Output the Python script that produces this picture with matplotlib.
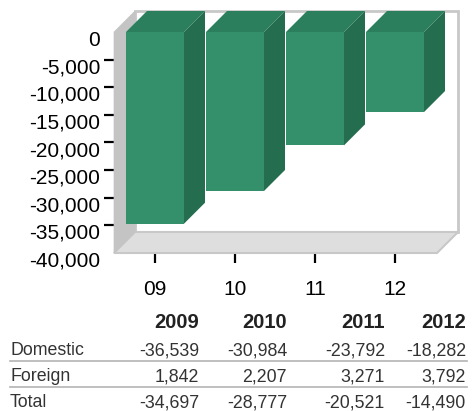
import matplotlib.pyplot as plt
from matplotlib.patches import Polygon
from matplotlib.lines import Line2D
from matplotlib.transforms import ScaledTranslation

plt.rcParams["font.family"] = ["Liberation Sans", "DejaVu Sans"]

categories = ["09", "10", "11", "12"]
years = ["2009", "2010", "2011", "2012"]
domestic = [-36539, -30984, -23792, -18282]
foreign = [1842, 2207, 3271, 3792]
total = [-34697, -28777, -20521, -14490]
yticks = list(range(-40000, 1, 5000))

W, H = 477, 411
front = "#33906a"
top_c = "#2b7f5d"
side_c = "#246d4f"
wall_edge = "#c8c8c8"

fig = plt.figure(figsize=(W / 100, H / 100), dpi=100)
ax = fig.add_axes([114 / W, 1 - 253 / H, (437 - 114) / W, (253 - 32) / H])
ax.patch.set_visible(False)
for s in ax.spines.values():
    s.set_visible(False)

x0, x1 = -0.5125, 3.525
ymin, ymax = -40000, 0
ax.set_xlim(x0, x1)
ax.set_ylim(ymin, ymax)

# depth of the fake 3d box, in data units (about 21px each way)
dx = 21 / 80
dy = 21 / 221 * 40000

# back wall, floor, left wall
ax.add_patch(Polygon([(x0 + dx, ymin + dy), (x1 + dx, ymin + dy), (x1 + dx, ymax + dy), (x0 + dx, ymax + dy)],
                     closed=True, facecolor="white", edgecolor=wall_edge, lw=2, clip_on=False, zorder=1))
ax.add_patch(Polygon([(x0, ymin), (x1, ymin), (x1 + dx, ymin + dy), (x0 + dx, ymin + dy)],
                     closed=True, facecolor="#dedede", edgecolor=wall_edge, lw=1.5, clip_on=False, zorder=2))
ax.add_patch(Polygon([(x0, ymin), (x0, ymax), (x0 + dx, ymax + dy), (x0 + dx, ymin + dy)],
                     closed=True, facecolor="#c4c4c4", edgecolor="#c4c4c4", lw=0.5, clip_on=False, zorder=2))

width = 0.725
xs = list(range(len(categories)))
bars = ax.bar(xs, total, width=width, color=front, zorder=3, clip_on=False)
for b, v in zip(bars, total):
    xl = b.get_x()
    xr = xl + b.get_width()
    ax.add_patch(Polygon([(xl, 0), (xr, 0), (xr + dx, dy), (xl + dx, dy)],
                         closed=True, facecolor=top_c, edgecolor="none", clip_on=False, zorder=3))
    ax.add_patch(Polygon([(xr, 0), (xr, v), (xr + dx, v + dy), (xr + dx, dy)],
                         closed=True, facecolor=side_c, edgecolor="none", clip_on=False, zorder=3))

ax.set_yticks(yticks)
ax.set_yticklabels([f"{t:,}" for t in yticks], fontsize=15)
ax.tick_params(axis="y", length=7, width=1.6, pad=3, color="black")
ax.set_xticks(xs)
ax.set_xticklabels(categories, fontsize=15)
ax.tick_params(axis="x", length=7.2, width=1.6, pad=12, color="black")

ticks = ax.yaxis.get_major_ticks()
ticks[0].tick1line.set_visible(False)
ticks[-1].tick1line.set_visible(False)
shift = ScaledTranslation(0, -6 / 100, fig.dpi_scale_trans)
for lab in ax.get_yticklabels():
    lab.set_transform(lab.get_transform() + shift)


def px(x, y):
    return x / W, 1 - y / H


# data table under the chart
col_right = [199, 287, 385, 466]
for xr, yr in zip(col_right, years):
    fig.text(*px(xr, 328), yr, ha="right", va="baseline", fontsize=14.5, fontweight="bold", color="#222222")

rows = [("Domestic", domestic, 355), ("Foreign", foreign, 381), ("Total", total, 407)]
for name, vals, yb in rows:
    fig.text(*px(10, yb), name, ha="left", va="baseline", fontsize=12.8, color="#333333")
    for xr, v in zip(col_right, vals):
        fig.text(*px(xr, yb), f"{v:,}", ha="right", va="baseline", fontsize=12.8, color="#333333")

for yl in (361, 387):
    fig.add_artist(Line2D([10 / W, 467 / W], [1 - yl / H, 1 - yl / H], color="#b4b4b4", lw=1.2))

fig.savefig("out.png", dpi=100)
